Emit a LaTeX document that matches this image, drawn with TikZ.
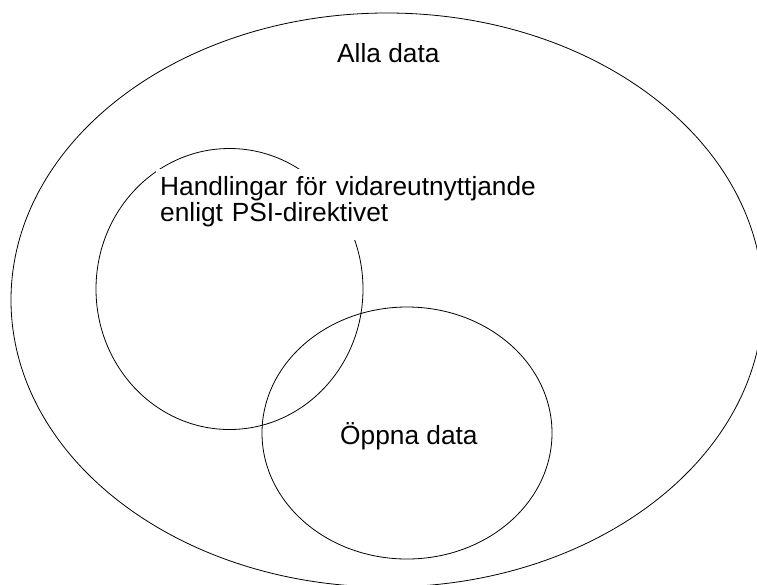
\documentclass[tikz,border=0pt]{standalone}
\usepackage{fontspec}
\setmainfont{Liberation Sans}
\usetikzlibrary{shapes.geometric}
\begin{document}
\begin{tikzpicture}[x=1pt,y=-1pt,
  venn/.style={ellipse, draw=black, line width=0.8pt, inner sep=0pt, outer sep=0pt},
  lbl/.style={inner sep=0pt, font=\fontsize{26.3}{26}\selectfont, text=black}]
\fill[white] (0,0) rectangle (757,584);
\useasboundingbox (0,0) rectangle (757,584);
\node[venn, minimum width=752pt, minimum height=574pt] (all) at (387,300) {};
\node[venn, minimum width=267pt, minimum height=281pt] (psi) at (229.5,289) {};
\node[venn, minimum width=290pt, minimum height=252pt] (open) at (407,433) {};
\node[lbl, anchor=base west] (alltext) at (337,62) {Alla data};
\node[lbl, anchor=north west, fill=white, inner xsep=4pt, inner ysep=7pt,
      text width=376pt, align=left] (psitext) at (156,169)
  {Handlingar för vidareutnyttjande\\enligt PSI-direktivet\rule[-12pt]{0pt}{1pt}};
\node[lbl, anchor=base west] (opentext) at (340,444) {Öppna data};
\end{tikzpicture}
\end{document}
